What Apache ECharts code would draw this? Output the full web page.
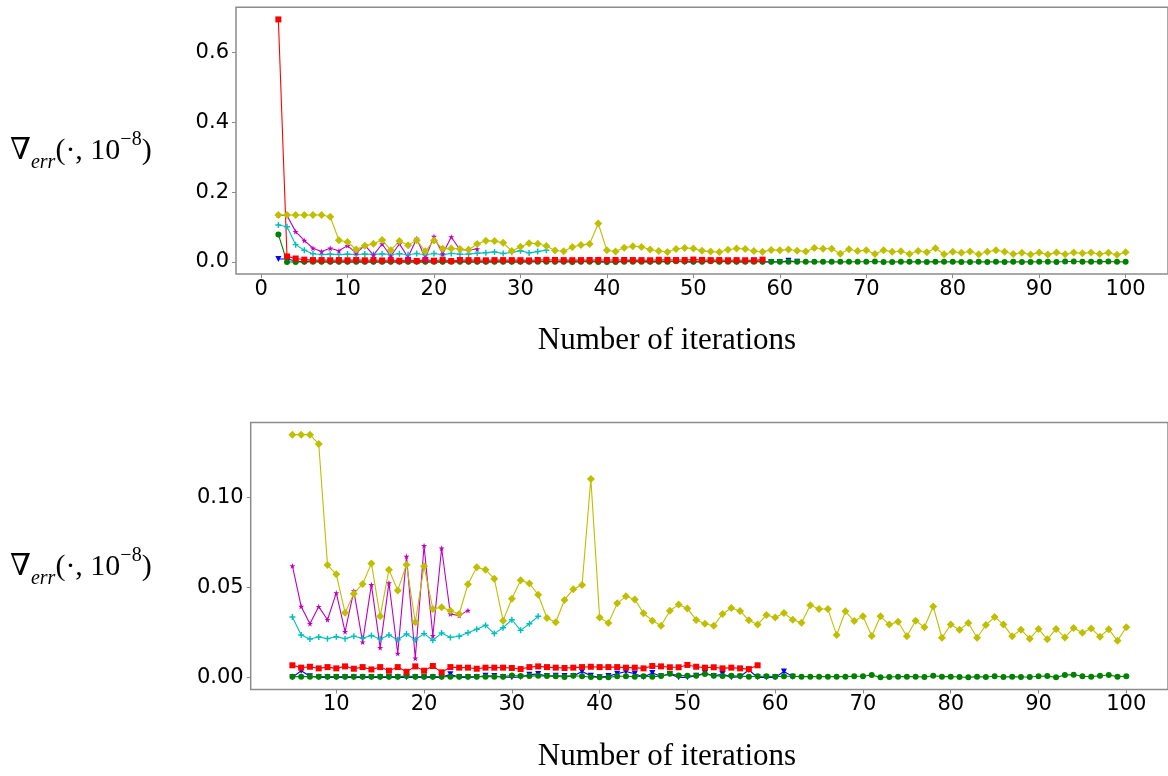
<!DOCTYPE html>
<html>
<head>
<meta charset="utf-8">
<script src="https://cdn.jsdelivr.net/npm/echarts@6/dist/echarts.min.js"></script>
<style>
  html, body { margin: 0; padding: 0; background: #fff; }
  #chart { width: 1168px; height: 776px; }
</style>
</head>
<body>
<div id="chart"></div>
<script>
// every series starts at iteration 2
const firstIter = 2

const redVals = [0.695, 0.016, 0.010,
  0.0067, 0.0054, 0.0059, 0.0050, 0.0057, 0.0050, 0.0061, 0.0048, 0.0057, 0.0044,
  0.0057, 0.0037, 0.0057, 0.0031, 0.0061, 0.0037, 0.0063, 0.0028, 0.0057, 0.0054,
  0.0054, 0.0048, 0.0054, 0.0054, 0.0054, 0.0052, 0.0046, 0.0057, 0.0061, 0.0057,
  0.0054, 0.0052, 0.0054, 0.0057, 0.0059, 0.0057, 0.0057, 0.0057, 0.0054, 0.0054,
  0.0050, 0.0063, 0.0061, 0.0056, 0.0056, 0.0069, 0.0059, 0.0054, 0.0056, 0.0050,
  0.0054, 0.0050, 0.0046, 0.0067]

const yellowVals = [0.1348, 0.1348, 0.1348, 0.1348, 0.1348, 0.1348, 0.1296,
  0.0624, 0.0572, 0.0359, 0.0465, 0.0519, 0.0633, 0.0339, 0.0598, 0.0483, 0.0626,
  0.0306, 0.0617, 0.0380, 0.0389, 0.0370, 0.0352, 0.0517, 0.0611, 0.0598, 0.0548,
  0.0315, 0.0437, 0.0539, 0.0522, 0.0459, 0.0330,
  0.0306, 0.0430, 0.0490, 0.0513, 0.1102, 0.0333, 0.0302, 0.0411, 0.0450, 0.0433,
  0.0356, 0.0315, 0.0287, 0.0370, 0.0404, 0.0383, 0.0319, 0.0298, 0.0287, 0.0352,
  0.0385, 0.0369, 0.0317, 0.0293, 0.0346, 0.0333, 0.0357, 0.0320, 0.0304, 0.0400,
  0.0380, 0.0380, 0.0235, 0.0367, 0.0313,
  0.0339, 0.0230, 0.0339, 0.0293, 0.0309, 0.0228, 0.0315, 0.0278, 0.0394, 0.0220,
  0.0293, 0.0265, 0.0302, 0.0220, 0.0291, 0.0335, 0.0294, 0.0228, 0.0265, 0.0215,
  0.0269, 0.0211, 0.0269, 0.0222, 0.0274, 0.0248, 0.0272, 0.0226, 0.0267, 0.0204,
  0.0278]

const magentaVals = [0.134, 0.133, 0.087,
  0.0619, 0.0394, 0.0298, 0.0393, 0.0320, 0.0469, 0.0254, 0.0480, 0.0196, 0.0515,
  0.0165, 0.0524, 0.0133, 0.0672, 0.0106, 0.0731, 0.0231, 0.0717, 0.0352, 0.0343,
  0.0372]

const cyanVals = [0.106, 0.101, 0.0497,
  0.0335, 0.0235, 0.0213, 0.0224, 0.0215, 0.0226, 0.0215, 0.0228, 0.0217, 0.0233,
  0.0213, 0.0235, 0.0209, 0.0241, 0.0209, 0.0243, 0.0206, 0.0246, 0.0222, 0.0228,
  0.0248, 0.0267, 0.0289, 0.0243, 0.0276, 0.0320, 0.0261, 0.0298, 0.0339]

const blueVals = [0.0086, 0.0086, 0.0030,
  0.0000, 0.0037, 0.0006, 0, 0, 0, 0, 0, 0, 0, 0, 0, 0, 0, 0, 0, 0, 0,
  0.0017, 0, 0, 0.0002, 0.0009, 0.0007, 0.0002, 0, 0.0002, 0.0015,
  0.0019, 0.0007, 0.0009, 0.0007, 0.0007, 0.0033, 0.0009, 0, 0.0007, 0.0020,
  0.0033, 0.0020, 0.0002, 0.0024, 0.0006, 0.0019, 0, 0, 0.0009, 0.0024,
  0.0007, 0.0019, 0, 0.0004, 0.0041, 0, 0, 0, 0.0033, 0.0004]

const greenVals = [0.079, 0, 0,
  0.0004, 0.0004, 0.0004, 0.0004, 0.0004, 0.0004, 0.0004, 0.0004, 0.0004, 0.0004,
  0.0004, 0.0004, 0.0004, 0.0007, 0.0004, 0.0004, 0.0004, 0.0004, 0.0004, 0.0004,
  0.0004, 0.0004, 0.0004, 0.0004, 0.0004, 0.0010, 0.0007, 0.0007,
  0.0009, 0.0007, 0.0006, 0.0002, 0.0009, 0.0006, 0.0002, 0, 0, 0.0006,
  0.0006, 0.0004, 0.0006, 0.0004, 0.0007, 0.0020, 0.0011, 0.0009, 0.0009, 0.0019,
  0.0009, 0.0007, 0.0009, 0.0007, 0.0004, 0.0006, 0.0006, 0.0004, 0.0006, 0.0006,
  0.0004, 0.0004, 0.0004, 0.0004, 0.0004, 0.0004,
  0.0006, 0.0006, 0.0013, 0, 0.0002, 0.0004, 0.0004, 0.0004, 0.0002, 0.0009,
  0.0004, 0.0004, 0.0002, 0, 0.0004, 0.0002, 0.0006, 0.0002, 0.0004, 0.0002,
  0.0002, 0.0006, 0.0007, 0, 0.0013, 0.0015, 0.0006, 0.0004, 0.0009, 0.0013,
  0.0004, 0.0006]

const topXTicks = [0, 10, 20, 30, 40, 50, 60, 70, 80, 90, 100]
const topYTicks = [0, 0.2, 0.4, 0.6]
const bottomXTicks = [10, 20, 30, 40, 50, 60, 70, 80, 90, 100]
const bottomYTicks = [0, 0.05, 0.1]

const STAR = 'path://M50,0 L61,35 L98,35 L68,57 L79,91 L50,70 L21,91 L32,57 L2,35 L39,35 Z'
const PLUS = 'path://M38,0 H62 V38 H100 V62 H62 V100 H38 V62 H0 V38 H38 Z'
const TRI_DOWN = 'path://M0,0 L100,0 L50,87 Z'

const styles = [
  { name: 'blue', vals: blueVals, color: '#0000ff', symbol: TRI_DOWN, size: 6 },
  { name: 'green', vals: greenVals, color: '#008000', symbol: 'circle', size: 6 },
  { name: 'red', vals: redVals, color: '#ff0000', symbol: 'rect', size: 6 },
  { name: 'cyan', vals: cyanVals, color: '#00bfbf', symbol: PLUS, size: 6 },
  { name: 'magenta', vals: magentaVals, color: '#bf00bf', symbol: STAR, size: 6 },
  { name: 'yellow', vals: yellowVals, color: '#bfbf00', symbol: 'diamond', size: 8 }
]

function makeSeries (gridIndex, fromIter) {
  return styles.map(s => ({
    name: s.name,
    type: 'line',
    xAxisIndex: gridIndex,
    yAxisIndex: gridIndex,
    data: s.vals.map((v, i) => [firstIter + i, v]).filter(p => p[0] >= fromIter),
    symbol: s.symbol,
    symbolSize: s.size,
    showSymbol: true,
    color: s.color,
    lineStyle: { width: 1.1, color: s.color },
    itemStyle: { color: s.color },
    emphasis: { disabled: true }
  }))
}

const tickFont = { fontFamily: 'DejaVu Sans', fontSize: 21, color: '#000' }
const spine = '#8c8c8c'

function xAxisFor (gridIndex, min, max, ticks) {
  return {
    type: 'value', gridIndex, min, max,
    axisLine: { show: false, onZero: false },
    splitLine: { show: false },
    axisTick: { show: true, customValues: ticks, length: 4, lineStyle: { color: spine } },
    axisLabel: Object.assign({ customValues: ticks, margin: 5, formatter: v => String(Math.round(v)) }, tickFont)
  }
}

function yAxisFor (gridIndex, min, max, ticks, digits) {
  return {
    type: 'value', gridIndex, min, max,
    axisLine: { show: false, onZero: false },
    splitLine: { show: false },
    axisTick: { show: true, customValues: ticks, length: 4, lineStyle: { color: spine } },
    axisLabel: Object.assign({ customValues: ticks, margin: 7, formatter: v => v.toFixed(digits) }, tickFont)
  }
}

const yLabelRich = {
  n: { fontFamily: 'Liberation Serif, DejaVu Serif', fontSize: 30, lineHeight: 43, color: '#000' },
  m: { fontFamily: 'Liberation Serif', fontSize: 30, lineHeight: 43, color: '#000' },
  s: { fontFamily: 'Liberation Serif', fontStyle: 'italic', fontSize: 20, lineHeight: 24, verticalAlign: 'bottom', color: '#000' },
  p: { fontFamily: 'Liberation Serif', fontSize: 20, lineHeight: 24, verticalAlign: 'top', color: '#000' }
}
const yLabelText = '{n|∇}{s|err}{m|(·, 10}{p|−8}{m|)}'

function yLabel (top) {
  return { type: 'text', left: 10, top, style: { text: yLabelText, rich: yLabelRich } }
}

function xLabel (y) {
  return {
    type: 'text', x: 667, y,
    style: {
      text: 'Number of iterations', fontFamily: 'Liberation Serif', fontSize: 31,
      fill: '#000', align: 'center', verticalAlign: 'middle'
    }
  }
}

const chart = echarts.init(document.getElementById('chart'), null, { renderer: 'canvas' })

const option = {
  animation: false,
  backgroundColor: '#fff',
  grid: [
    { left: 236, top: 7.3, width: 944, height: 266.8, show: true, borderColor: spine, borderWidth: 1.5, backgroundColor: 'transparent' },
    { left: 250.7, top: 422.5, width: 927, height: 267, show: true, borderColor: spine, borderWidth: 1.5, backgroundColor: 'transparent' }
  ],
  xAxis: [
    xAxisFor(0, -2.9, 104.9, topXTicks),
    xAxisFor(1, 0.25, 104.75, bottomXTicks)
  ],
  yAxis: [
    yAxisFor(0, -0.0347, 0.7297, topYTicks, 1),
    yAxisFor(1, -0.00674, 0.14155, bottomYTicks, 2)
  ],
  series: [...makeSeries(0, 2), ...makeSeries(1, 5)],
  graphic: [yLabel(130), yLabel(546), xLabel(341), xLabel(757)]
}

chart.setOption(option)
</script>
</body>
</html>
